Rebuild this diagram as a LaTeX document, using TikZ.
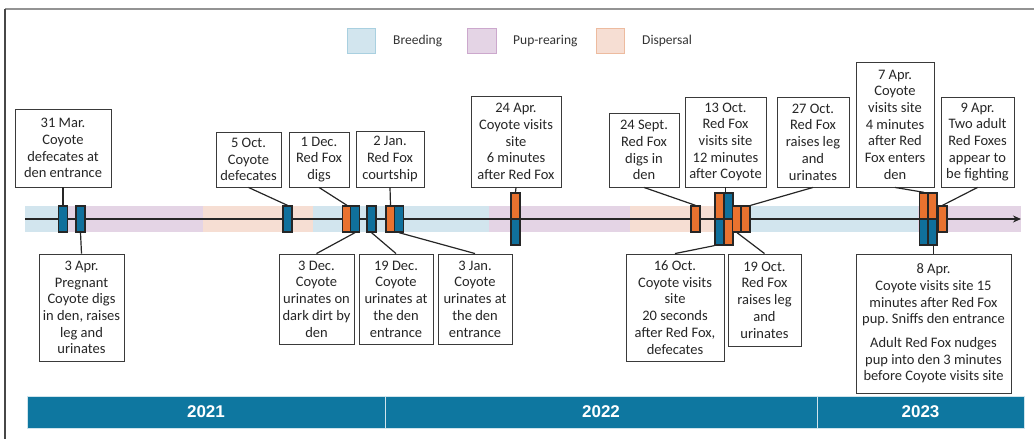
\documentclass[tikz,border=0pt]{standalone}
\usepackage{fontspec}
\setmainfont{Carlito}
\newfontfamily\yearfont{Liberation Sans}
\usetikzlibrary{arrows.meta}
\frenchspacing
\definecolor{brdf}{HTML}{D2E5EE}
\definecolor{brdl}{HTML}{A9D0E0}
\definecolor{pupf}{HTML}{E4D4E5}
\definecolor{pupl}{HTML}{CCA8CD}
\definecolor{dspf}{HTML}{F6DED3}
\definecolor{dspl}{HTML}{EDBB9F}
\definecolor{coy}{HTML}{10709C}
\definecolor{fox}{HTML}{E9722F}
\definecolor{barc}{HTML}{0E77A0}
\definecolor{ink}{HTML}{262626}
\definecolor{boxl}{HTML}{3A3A3A}
\definecolor{txt}{HTML}{333333}
\tikzset{
  evbox/.style={draw=boxl, line width=0.9pt, fill=white, align=center, inner sep=1pt,
    text=ink, font=\fontsize{14.5}{16.7}\selectfont},
  mark base/.style={draw=ink, line width=1.3pt, minimum width=9, minimum height=26, inner sep=0pt},
  mkc/.style={mark base, fill=coy},
  mkf/.style={mark base, fill=fox},
  lead/.style={draw=ink, line width=1.2pt},
  legsq/.style={line width=0.9pt, inner sep=0pt},
  legtxt/.style={anchor=west, inner sep=0pt, text=txt, font=\fontsize{13.5}{16}\selectfont},
  yearbox/.style={fill=barc, draw=white!80!barc, line width=0.7pt, inner sep=0pt, text=white,
    font=\yearfont\bfseries\fontsize{17}{20}\selectfont},
  axisline/.style={draw=ink, line width=2pt, -{Stealth[length=8pt,width=7pt]}},
}
\newcommand\boxat[7]{\node[#1, minimum width={(#4)-(#3)}, minimum height={(#6)-(#5)}] (#2) at ({((#3)+(#4))/2},{((#5)+(#6))/2}) {#7};}
\begin{document}
\begin{tikzpicture}[x=1pt,y=-1pt]
\useasboundingbox (0,0) rectangle (1034,439);
% frame
\draw[color=gray!85, line width=1.5pt] (1034,9) -- (5,9);
\draw[color=ink!85, line width=1.5pt] (5,9) -- (5,439);
% legend
\boxat{legsq, fill=brdf, draw=brdl}{lgb}{347}{375}{28}{53}{}
\node[legtxt] (lgbt) at (393,41) {Breeding};
\boxat{legsq, fill=pupf, draw=pupl}{lgp}{467}{496}{28}{53}{}
\node[legtxt] (lgpt) at (513,41) {Pup-rearing};
\boxat{legsq, fill=dspf, draw=dspl}{lgd}{596}{624}{28}{53}{}
\node[legtxt] (lgdt) at (642,41) {Dispersal};
% season band
\fill[brdf] (25,206) rectangle (66,232);
\fill[pupf] (66,206) rectangle (203,232);
\fill[dspf] (203,206) rectangle (313,232);
\fill[brdf] (313,206) rectangle (489,232);
\fill[pupf] (489,206) rectangle (630,232);
\fill[dspf] (630,206) rectangle (740,232);
\fill[brdf] (740,206) rectangle (918,232);
\fill[pupf] (918,206) rectangle (1021,232);
% axis
\coordinate (axs) at (25,219);
\coordinate (axe) at (1021,219);
\draw[axisline] (axs) -- (axe);
% markers
\node[mkc] (m31mar) at (63,219) {};
\node[mkc] (m3apr) at (80.5,219) {};
\node[mkc] (m5oct) at (287.5,219) {};
\node[mkf] (m1dec) at (347,219) {};
\node[mkc] (m3dec) at (355,219) {};
\node[mkc] (m19dec) at (371.5,219) {};
\node[mkf] (m2jan) at (390.5,219) {};
\node[mkc] (m3jan) at (399,219) {};
\node[mkf] (m24aprT) at (515.5,206) {};
\node[mkc] (m24aprB) at (515.5,232) {};
\node[mkf] (m24sep) at (695.5,219) {};
\node[mkf] (m13octA) at (719.5,206) {};
\node[mkc] (m13octB) at (728.5,206) {};
\node[mkc] (m16octA) at (719.5,232) {};
\node[mkf] (m16octB) at (728.5,232) {};
\node[mkf] (m19oct) at (737,219) {};
\node[mkf] (m27oct) at (745.5,219) {};
\node[mkf] (m7aprA) at (924,206) {};
\node[mkf] (m7aprB) at (932.5,206) {};
\node[mkc] (m8aprA) at (924,232) {};
\node[mkc] (m8aprB) at (932.5,232) {};
\node[mkf] (m9apr) at (942.5,219) {};
% boxes above
\boxat{evbox}{b31mar}{15}{111}{109}{187}{31 Mar.\\Coyote\\defecates at\\den entrance}
\boxat{evbox}{b5oct}{216}{281}{132}{187}{5 Oct.\\Coyote\\defecates}
\boxat{evbox}{b1dec}{289}{349}{132}{187}{1 Dec.\\Red Fox\\digs}
\boxat{evbox}{b2jan}{356}{424}{131}{187}{2 Jan.\\Red Fox\\courtship}
\boxat{evbox}{b24apr}{471}{561}{96}{187}{24 Apr.\\Coyote visits\\site\\6 minutes\\after Red Fox}
\boxat{evbox}{b24sep}{609}{679}{113}{187}{24 Sept.\\Red Fox\\digs in\\den}
\boxat{evbox}{b13oct}{685}{766}{97}{187}{13 Oct.\\Red Fox\\visits site\\12 minutes\\after Coyote}
\boxat{evbox}{b27oct}{777}{849}{97}{187}{27 Oct.\\Red Fox\\raises leg\\and\\urinates}
\boxat{evbox}{b7apr}{856}{934}{62}{187}{7 Apr.\\Coyote\\visits site\\4 minutes\\after Red\\Fox enters\\den}
\boxat{evbox}{b9apr}{941}{1014}{97}{187}{9 Apr.\\Two adult\\Red Foxes\\appear to\\be fighting}
% boxes below
\boxat{evbox}{b3apr}{39}{124}{254}{361}{3 Apr.\\Pregnant\\Coyote digs\\in den, raises\\leg and\\urinates}
\boxat{evbox}{b3dec}{279}{354}{254}{344}{3 Dec.\\Coyote\\urinates on\\dark dirt by\\den}
\boxat{evbox}{b19dec}{359}{433}{254}{344}{19 Dec.\\Coyote\\urinates at\\the den\\entrance}
\boxat{evbox}{b3jan}{438}{512}{254}{344}{3 Jan.\\Coyote\\urinates at\\the den\\entrance}
\boxat{evbox}{b16oct}{626}{724}{254}{361}{16 Oct.\\Coyote visits\\site\\20 seconds\\after Red Fox,\\defecates}
\boxat{evbox}{b19oct}{728}{801}{254}{346}{19 Oct.\\Red Fox\\raises leg\\and\\urinates}
\boxat{evbox}{b8apr}{856}{1011}{254}{393}{8 Apr.\\Coyote visits site 15\\minutes after Red Fox\\pup. Sniffs den entrance\\[6.7pt]Adult Red Fox nudges\\pup into den 3 minutes\\before Coyote visits site}
% leaders
\draw[lead] (b31mar.south) -- (m31mar.north);
\draw[lead] (b5oct.south) -- (m5oct.north);
\draw[lead] (b1dec.south) -- (m1dec.north);
\draw[lead] (b2jan.south) -- (m2jan.north);
\draw[lead] (b24apr.south) -- (m24aprT.north);
\draw[lead] (b24sep.south) -- (m24sep.north);
\draw[lead] (b13oct.south) -- (b13oct.south |- m13octB.north);
\draw[lead] (b27oct.south) -- (m27oct.north east);
\draw[lead] (b7apr.south) -- (m7aprA.north);
\draw[lead] (b9apr.south) -- (m9apr.north);
\draw[lead] (b3apr.north) -- (m3apr.south);
\draw[lead] (b3dec.north) -- (m3dec.south);
\draw[lead] (b19dec.north) -- (m19dec.south);
\draw[lead] (b3jan.north) -- (m3jan.south);
\draw[lead] (b16oct.north) -- (m16octA.south west);
\draw[lead] (b19oct.north) -- (m19oct.south);
\draw[lead] (b8apr.north) -- (b8apr.north |- m8aprB.south);
% year bar
\boxat{yearbox}{y2021}{27}{385}{396}{428}{2021}
\boxat{yearbox}{y2022}{385}{817}{396}{428}{2022}
\boxat{yearbox}{y2023}{817}{1024}{396}{428}{2023}
\end{tikzpicture}
\end{document}
